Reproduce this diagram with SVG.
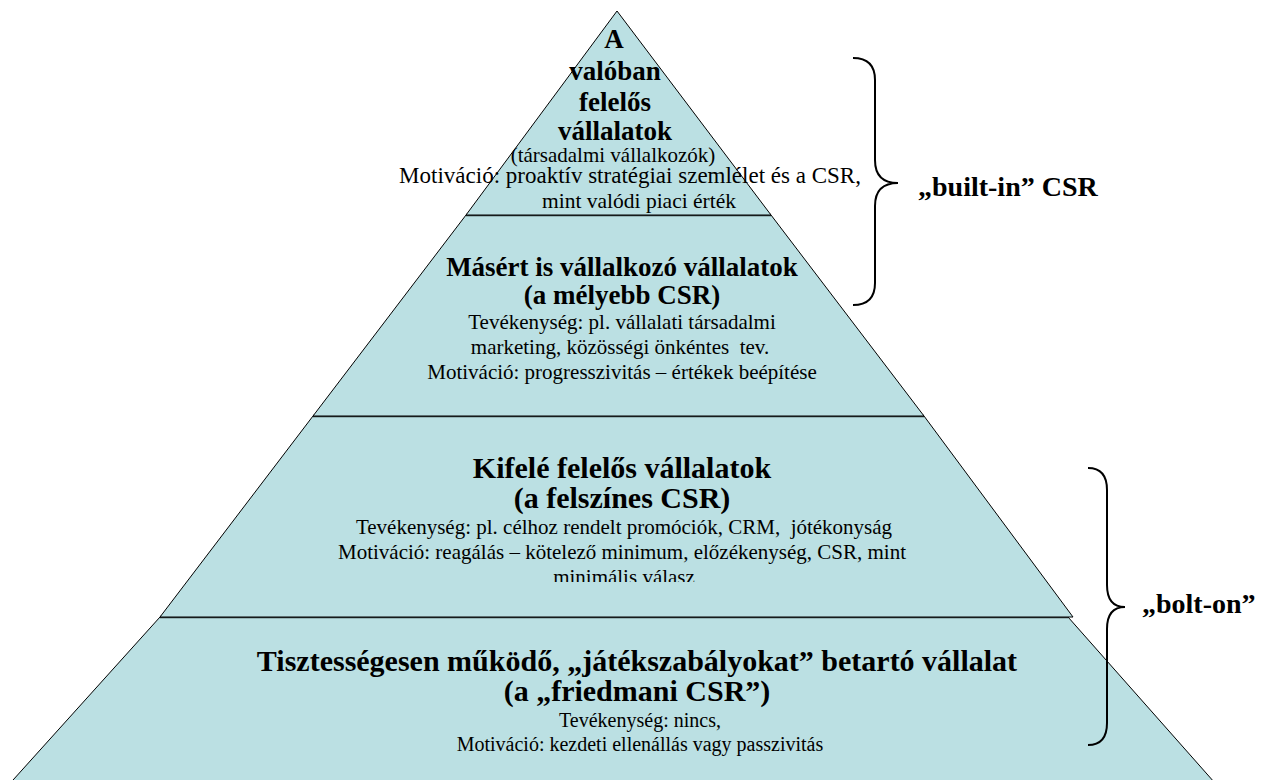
<svg xmlns="http://www.w3.org/2000/svg" width="1274" height="780" viewBox="0 0 1274 780">
<style>
.sec{fill:#BBE0E3;stroke:#000;stroke-width:1}
.sep{stroke:#2a3535;stroke-width:2.5;fill:none}
.b{font-family:"Liberation Serif","Times New Roman",serif;font-weight:bold;text-anchor:middle;fill:#000}
.r{font-family:"Liberation Serif","Times New Roman",serif;text-anchor:middle;fill:#000}
.brace{fill:none;stroke:#000;stroke-width:2}
</style>
<defs>
<clipPath id="c3"><rect x="0" y="416" width="1274" height="166"/></clipPath>
</defs>
<g id="level4">
<path class="sec" d="M160,617 L1068,617 L1230,800 L-5,800 Z"/>
<line class="sep" x1="160" y1="617" x2="1068" y2="617"/>
<text class="b" x="637" y="671" font-size="30">Tisztességesen működő, „játékszabályokat” betartó vállalat</text>
<text class="b" x="637" y="701" font-size="30">(a „friedmani CSR”)</text>
<text class="r" x="640" y="727" font-size="20">Tevékenység: nincs,</text>
<text class="r" x="640" y="751" font-size="20">Motiváció: kezdeti ellenállás vagy passzivitás</text>
</g>
<g id="level3">
<path class="sec" d="M313,416 L924,416 L1073,617 L160,617 Z"/>
<line class="sep" x1="313" y1="416" x2="924" y2="416"/>
<text class="b" x="622" y="478" font-size="30">Kifelé felelős vállalatok</text>
<text class="b" x="622" y="508" font-size="30">(a felszínes CSR)</text>
<text class="r" x="624" y="534" font-size="21">Tevékenység: pl. célhoz rendelt promóciók, CRM,&#160; jótékonyság</text>
<text class="r" x="622" y="559" font-size="21">Motiváció: reagálás – kötelező minimum, előzékenység, CSR, mint</text>
<text class="r" x="624" y="584" font-size="21" clip-path="url(#c3)">minimális válasz</text>
</g>
<g id="level2">
<path class="sec" d="M466,215 L771,215 L924,416 L313,416 Z"/>
<line class="sep" x1="466" y1="215" x2="771" y2="215"/>
<text class="b" x="622" y="276" font-size="27">Másért is vállalkozó vállalatok</text>
<text class="b" x="622" y="304" font-size="27">(a mélyebb CSR)</text>
<text class="r" x="622" y="329" font-size="21">Tevékenység: pl. vállalati társadalmi</text>
<text class="r" x="620" y="354" font-size="21">marketing, közösségi önkéntes&#160; tev.</text>
<text class="r" x="622" y="379" font-size="21">Motiváció: progresszivitás – értékek beépítése</text>
</g>
<g id="level1">
<path class="sec" d="M617,11 L771,215 L466,215 Z"/>
<text class="b" x="614" y="48" font-size="27">A</text>
<text class="b" x="615" y="80" font-size="27">valóban</text>
<text class="b" x="615" y="111" font-size="27">felelős</text>
<text class="b" x="615" y="140" font-size="27">vállalatok</text>
<text class="r" x="613" y="162" font-size="21">(társadalmi vállalkozók)</text>
<text class="r" x="630" y="183" font-size="23">Motiváció: proaktív stratégiai szemlélet és a CSR,</text>
<text class="r" x="639" y="208" font-size="21.5">mint valódi piaci érték</text>
</g>
<g id="connectors">
<path class="brace" d="M853,58 Q875,58 875,80 L875,160 Q875,183 898,183 Q875,183 875,206 L875,283 Q875,305 853,305"/>
<path class="brace" d="M1088,468 Q1107,468 1107,490 L1107,585 Q1107,607 1125,607 Q1107,607 1107,629 L1107,723 Q1107,745 1088,745"/>
</g>
<g id="labels">
<text class="b" x="918" y="196" font-size="28" style="text-anchor:start">„built-in” CSR</text>
<text class="b" x="1142" y="613" font-size="28" style="text-anchor:start">„bolt-on”</text>
</g>
</svg>
